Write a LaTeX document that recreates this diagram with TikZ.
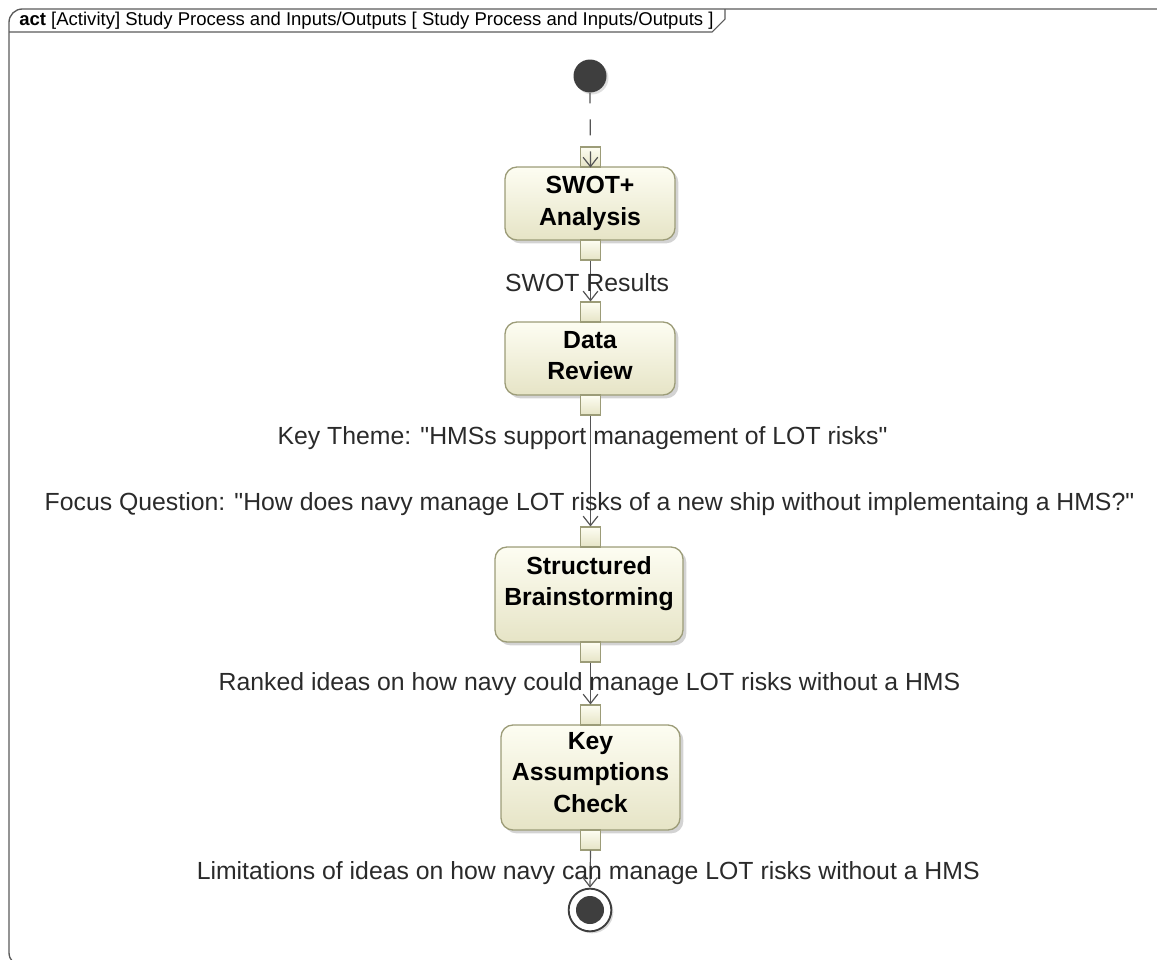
\documentclass[tikz,border=0pt]{standalone}
\usepackage{fontspec}
\setmainfont{Liberation Sans}
\usetikzlibrary{arrows.meta,shadows}

\definecolor{frameline}{HTML}{5A5A5A}
\definecolor{actborder}{HTML}{9C9C78}
\definecolor{acttop}{HTML}{FDFDF2}
\definecolor{actbottom}{HTML}{E6E4C6}
\definecolor{flowline}{HTML}{555555}
\definecolor{nodedark}{HTML}{3E3E3E}
\definecolor{labeltext}{HTML}{2A2A2A}

\tikzset{
  x=0.75pt, y=-0.75pt,
  action/.style={draw=actborder, line width=1pt, rounded corners=9pt,
    top color=acttop, bottom color=actbottom,
    drop shadow={shadow xshift=2.5pt, shadow yshift=-2.5pt, opacity=0.35}},
  actiontext/.style={anchor=north, inner sep=0pt, yshift=-7.3pt, align=center,
    font=\fontsize{18.6}{23.6}\selectfont\bfseries, text=black},
  pin/.style={draw=actborder, line width=0.8pt, top color=acttop,
    bottom color=actbottom, minimum width=15pt, minimum height=15pt,
    inner sep=0pt},
  flow/.style={draw=flowline, line width=0.9pt,
    -{Straight Barb[length=7pt,width=11pt,line width=0.9pt]}},
  flowlabel/.style={font=\fontsize{18.6}{21}\selectfont, text=labeltext,
    inner sep=0pt, yshift=-1.8pt},
}

\begin{document}
\begin{tikzpicture}
\useasboundingbox (0,0) rectangle (1157,960);

% diagram frame and its name tab
\draw[frameline, line width=1pt, rounded corners=10pt]
  (1180,966) -- (9,966) -- (9,9) -- (1180,9);
\draw[frameline, line width=0.8pt] (9,32) -- (712,32) -- (725,19) -- (725,9);
\node[anchor=west, inner sep=0pt, font=\fontsize{13.9}{15}\selectfont]
  (title) at (19,21)
  {\textbf{act} [Activity] Study Process and Inputs/Outputs [ Study Process and Inputs/Outputs ]};

% initial node
\node[circle, fill=nodedark, minimum size=24.75pt, inner sep=0pt,
  drop shadow={shadow xshift=1.5pt, shadow yshift=-1.5pt, opacity=0.25}]
  (init) at (590,76) {};

% actions (names set from the top edge of each box)
\node[action, minimum width=127.5pt, minimum height=54.75pt] (swot) at (590,203.5) {};
\node[actiontext] (swottext) at (swot.north) {SWOT+\\Analysis};
\node[action, minimum width=127.5pt, minimum height=54.75pt] (data) at (590,358.5) {};
\node[actiontext] (datatext) at (data.north) {Data\\Review};
\node[action, minimum width=141pt, minimum height=71.25pt] (brain) at (589,594.5) {};
\node[actiontext] (braintext) at (brain.north) {Structured\\Brainstorming};
\node[action, minimum width=134.25pt, minimum height=78.75pt] (kac) at (590.5,777.5) {};
\node[actiontext, yshift=1.5pt] (kactext) at (kac.north) {Key\\Assumptions\\Check};

% input and output pins
\node[pin] (swotin)  at (590.5,157) {};
\node[pin] (swotout) at (590.5,250) {};
\node[pin] (datain)  at (590.5,312) {};
\node[pin] (dataout) at (590.5,405) {};
\node[pin] (brainin) at (590.5,537) {};
\node[pin] (brainout) at (590.5,652) {};
\node[pin] (kacin)   at (590.5,715) {};
\node[pin] (kacout)  at (590.5,840) {};

% final node
\node[circle, draw=nodedark, line width=1.4pt, fill=white, minimum size=32pt,
  inner sep=0pt, drop shadow={shadow xshift=1.5pt, shadow yshift=-1.5pt, opacity=0.3}]
  (final) at (590,910) {};
\node[circle, fill=nodedark, minimum size=21pt, inner sep=0pt] (finaldot) at (final.center) {};

% flows
\draw[flow, dash pattern=on 12pt off 12pt, dash phase=4pt]
  (init.south) -- (swotin.south);
\draw[flow] (swotout.south) -- (datain.north)
  node[flowlabel, pos=0.52, xshift=-2.5pt, yshift=1pt] (l1) {SWOT Results};
\draw[flow] (dataout.south) -- (brainin.north)
  node[flowlabel, pos=0.18, xshift=-6pt] (l2) {Key Theme: \textquotedbl HMSs support management of LOT risks\textquotedbl}
  node[flowlabel, pos=0.777, xshift=-0.75pt] (l3) {Focus Question: \textquotedbl How does navy manage LOT risks of a new ship without implementaing a HMS?\textquotedbl};
\draw[flow] (brainout.south) -- (kacin.north)
  node[flowlabel, pos=0.465, xshift=-0.75pt] (l4) {Ranked ideas on how navy could manage LOT risks without a HMS};
\draw[flow] (kacout.south) -- (final.north)
  node[flowlabel, pos=0.51, xshift=-1.5pt, yshift=-1pt] (l5) {Limitations of ideas on how navy can manage LOT risks without a HMS};
\end{tikzpicture}
\end{document}
